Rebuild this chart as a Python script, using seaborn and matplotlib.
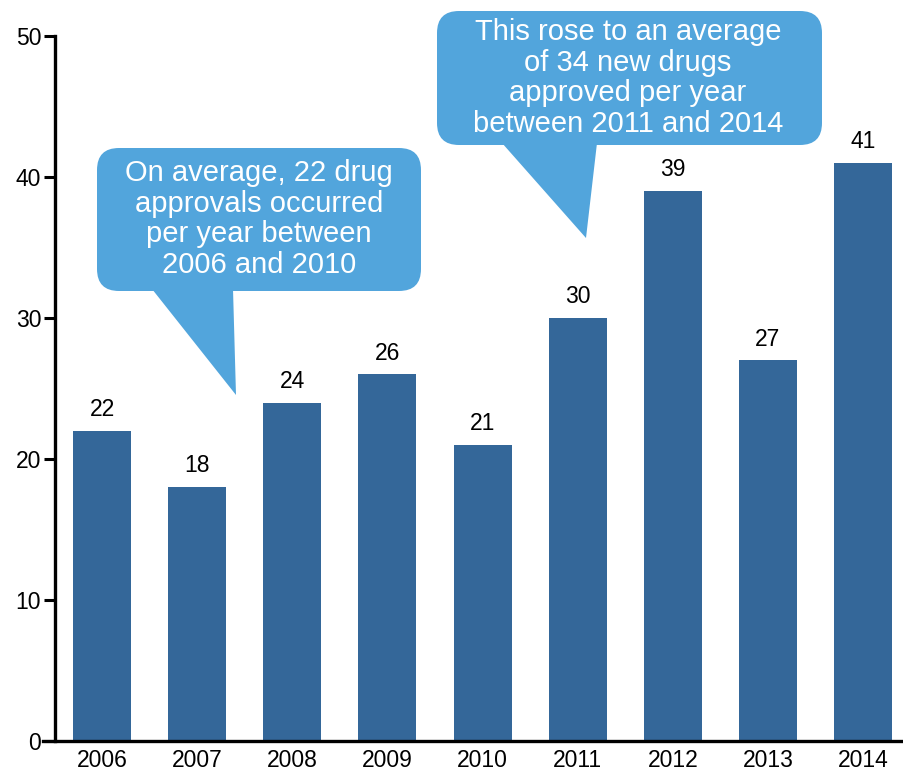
import matplotlib
matplotlib.use("Agg")
import matplotlib.pyplot as plt
from matplotlib.patches import FancyBboxPatch, Polygon
import seaborn as sns
import pandas as pd

years = ["2006", "2007", "2008", "2009", "2010", "2011", "2012", "2013", "2014"]
approvals = [22, 18, 24, 26, 21, 30, 39, 27, 41]
y_ticks = [0, 10, 20, 30, 40, 50]

note_early = "On average, 22 drug\napprovals occurred\nper year between\n2006 and 2010"
note_late = "This rose to an average\nof 34 new drugs\napproved per year\nbetween 2011 and 2014"

BAR = "#346799"
BUBBLE = "#52A5DC"

sns.set_theme(style="white")
plt.rcParams["font.family"] = ["Liberation Sans", "DejaVu Sans"]
plt.rcParams["text.color"] = "black"
plt.rcParams["xtick.color"] = "black"
plt.rcParams["ytick.color"] = "black"

W, H = 904, 771
fig = plt.figure(figsize=(W / 100, H / 100), dpi=100)
ax = fig.add_axes([55 / W, 1 - 741 / H, 1 - 55 / W, (741 - 36) / H])

df = pd.DataFrame({"year": years, "approvals": approvals})
sns.barplot(data=df, x="year", y="approvals", color=BAR, saturation=1,
            width=0.61, ax=ax, linewidth=0)

for c in ax.containers:
    ax.bar_label(c, labels=[str(v) for v in approvals], padding=7,
                 fontsize=16.5, color="black")

ax.set_ylim(0, 50)
ax.set_xlim(-0.495, 8.43)
ax.set_yticks(y_ticks)
ax.set_xlabel("")
ax.set_ylabel("")
ax.tick_params(axis="y", length=8, width=2.2, color="black", labelsize=16.5,
               labelcolor="black", left=True, pad=2)
ax.tick_params(axis="x", length=0, labelsize=16.5, labelcolor="black", pad=6)
for s in ["top", "right"]:
    ax.spines[s].set_visible(False)
for s in ["left", "bottom"]:
    ax.spines[s].set_color("black")
    ax.spines[s].set_linewidth(2.4)
ax.spines["bottom"].set_bounds(-0.62, 8.43)
ax.spines["bottom"].set_clip_on(False)


def px(x, y):
    return (x / W, 1 - y / H)


def bubble(box, tail, text, cx, cy):
    x0, y0, x1, y1 = box
    bl, bb = px(x0, y1)
    tr, tt = px(x1, y0)
    r = 22
    patch = FancyBboxPatch((bl + r / W, bb + r / H), (tr - bl) - 2 * r / W,
                           (tt - bb) - 2 * r / H,
                           boxstyle=f"round,pad={r / W},rounding_size={r / W}",
                           transform=fig.transFigure, facecolor=BUBBLE,
                           edgecolor="none", mutation_aspect=W / H, zorder=5)
    fig.add_artist(patch)
    tri = Polygon([px(*p) for p in tail], closed=True, transform=fig.transFigure,
                  facecolor=BUBBLE, edgecolor="none", zorder=5)
    fig.add_artist(tri)
    fig.text(*px(cx, cy), text, color="white", fontsize=21, ha="center",
             va="center", linespacing=1.12, zorder=6)


bubble((97, 148, 421, 291), [(152, 289), (233, 289), (236, 395)],
       note_early, 259, 219)
bubble((437, 11, 822, 145), [(502, 143), (597, 143), (586, 238)],
       note_late, 628, 78)

fig.savefig("out.png", dpi=100)
